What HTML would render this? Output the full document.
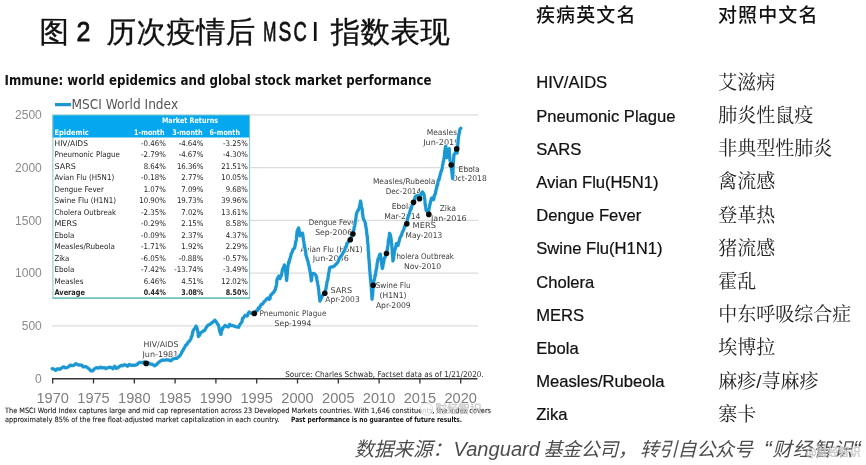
<!DOCTYPE html>
<html><head><meta charset="utf-8"><title>MSCI</title><style>
html,body{margin:0;padding:0;background:#fff;width:866px;height:465px;overflow:hidden}
svg{display:block}
</style></head><body>
<svg width="866" height="465" viewBox="0 0 866 465" font-family="'Liberation Sans',sans-serif">
<g font-family="'WenQuanYi Zen Hei','Noto Sans CJK SC',sans-serif" font-size="29.5" fill="#111" stroke="#111" stroke-width="0.35" letter-spacing="0.3">
<text x="39.4" y="42">图</text><text x="106.6" y="42">历次疫情后</text><text x="330.8" y="42">指数表现</text>
</g>
<g font-size="27" fill="#111" stroke="#111" stroke-width="0.8">
<text x="76.4" y="41.1" textLength="13.9" lengthAdjust="spacingAndGlyphs">2</text>
<text x="263.3" y="41.1" textLength="13.1" lengthAdjust="spacingAndGlyphs">M</text>
<text x="278.6" y="41.1" textLength="12.8" lengthAdjust="spacingAndGlyphs">S</text>
<text x="293.6" y="41.1" textLength="13.3" lengthAdjust="spacingAndGlyphs">C</text>
<text x="311.6" y="41.1" stroke-width="0.15">I</text>
</g>
<text x="4.5" y="85" font-family="'DejaVu Sans',sans-serif" font-size="14.4" font-weight="bold" fill="#111" textLength="427" lengthAdjust="spacingAndGlyphs">Immune: world epidemics and global stock market performance</text>
<line x1="55" y1="104.6" x2="71" y2="104.6" stroke="#1c97d2" stroke-width="3.3"/>
<text x="71.5" y="109" font-family="'DejaVu Sans',sans-serif" font-size="13.8" fill="#555" textLength="106.6" lengthAdjust="spacingAndGlyphs">MSCI World Index</text>
<line x1="52" y1="325.8" x2="478" y2="325.8" stroke="#dcdcdc" stroke-width="1.2"/>
<line x1="52" y1="273.1" x2="478" y2="273.1" stroke="#dcdcdc" stroke-width="1.2"/>
<line x1="52" y1="220.3" x2="478" y2="220.3" stroke="#dcdcdc" stroke-width="1.2"/>
<line x1="52" y1="167.6" x2="478" y2="167.6" stroke="#dcdcdc" stroke-width="1.2"/>
<line x1="52" y1="114.9" x2="478" y2="114.9" stroke="#dcdcdc" stroke-width="1.2"/>
<text x="41.8" y="382.8" font-size="12" fill="#8a8a8a" text-anchor="end">0</text>
<text x="41.8" y="330.1" font-size="12" fill="#8a8a8a" text-anchor="end">500</text>
<text x="41.8" y="277.4" font-size="12" fill="#8a8a8a" text-anchor="end">1000</text>
<text x="41.8" y="224.6" font-size="12" fill="#8a8a8a" text-anchor="end">1500</text>
<text x="41.8" y="171.9" font-size="12" fill="#8a8a8a" text-anchor="end">2000</text>
<text x="41.8" y="119.2" font-size="12" fill="#8a8a8a" text-anchor="end">2500</text>
<line x1="52" y1="378.8" x2="477.5" y2="378.8" stroke="#333" stroke-width="1.6"/>
<line x1="52.7" y1="378" x2="52.7" y2="383.5" stroke="#333" stroke-width="1.3"/>
<text x="52.7" y="402.6" font-size="14.6" fill="#7d7d7d" text-anchor="middle">1970</text>
<line x1="93.5" y1="378" x2="93.5" y2="383.5" stroke="#333" stroke-width="1.3"/>
<text x="93.5" y="402.6" font-size="14.6" fill="#7d7d7d" text-anchor="middle">1975</text>
<line x1="134.3" y1="378" x2="134.3" y2="383.5" stroke="#333" stroke-width="1.3"/>
<text x="134.3" y="402.6" font-size="14.6" fill="#7d7d7d" text-anchor="middle">1980</text>
<line x1="175.1" y1="378" x2="175.1" y2="383.5" stroke="#333" stroke-width="1.3"/>
<text x="175.1" y="402.6" font-size="14.6" fill="#7d7d7d" text-anchor="middle">1985</text>
<line x1="215.9" y1="378" x2="215.9" y2="383.5" stroke="#333" stroke-width="1.3"/>
<text x="215.9" y="402.6" font-size="14.6" fill="#7d7d7d" text-anchor="middle">1990</text>
<line x1="256.7" y1="378" x2="256.7" y2="383.5" stroke="#333" stroke-width="1.3"/>
<text x="256.7" y="402.6" font-size="14.6" fill="#7d7d7d" text-anchor="middle">1995</text>
<line x1="297.5" y1="378" x2="297.5" y2="383.5" stroke="#333" stroke-width="1.3"/>
<text x="297.5" y="402.6" font-size="14.6" fill="#7d7d7d" text-anchor="middle">2000</text>
<line x1="338.3" y1="378" x2="338.3" y2="383.5" stroke="#333" stroke-width="1.3"/>
<text x="338.3" y="402.6" font-size="14.6" fill="#7d7d7d" text-anchor="middle">2005</text>
<line x1="379.1" y1="378" x2="379.1" y2="383.5" stroke="#333" stroke-width="1.3"/>
<text x="379.1" y="402.6" font-size="14.6" fill="#7d7d7d" text-anchor="middle">2010</text>
<line x1="419.9" y1="378" x2="419.9" y2="383.5" stroke="#333" stroke-width="1.3"/>
<text x="419.9" y="402.6" font-size="14.6" fill="#7d7d7d" text-anchor="middle">2015</text>
<line x1="460.7" y1="378" x2="460.7" y2="383.5" stroke="#333" stroke-width="1.3"/>
<text x="460.7" y="402.6" font-size="14.6" fill="#7d7d7d" text-anchor="middle">2020</text>
<text x="285.2" y="376.5" font-family="'DejaVu Sans',sans-serif" font-size="7.9" fill="#2a2a2a" textLength="198.5" lengthAdjust="spacingAndGlyphs">Source: Charles Schwab, Factset data as of 1/21/2020.</text>
<g font-family="'DejaVu Sans',sans-serif" font-size="7.9" fill="#3c3c3c" text-anchor="middle">
<text x="161" y="347.4" textLength="34.8" lengthAdjust="spacingAndGlyphs">HIV/AIDS</text>
<text x="160.4" y="357" textLength="35.8" lengthAdjust="spacingAndGlyphs">Jun-1981</text>
<text x="293" y="315.8" textLength="66.8" lengthAdjust="spacingAndGlyphs">Pneumonic Plague</text>
<text x="293" y="325.7" textLength="36.8" lengthAdjust="spacingAndGlyphs">Sep-1994</text>
<text x="341.3" y="293" textLength="21.6" lengthAdjust="spacingAndGlyphs">SARS</text>
<text x="342.5" y="302.3" textLength="34.4" lengthAdjust="spacingAndGlyphs">Apr-2003</text>
<text x="331.5" y="251.9" textLength="62.1" lengthAdjust="spacingAndGlyphs">Avian Flu (H5N1)</text>
<text x="330.8" y="261" textLength="36.3" lengthAdjust="spacingAndGlyphs">Jun-2006</text>
<text x="333.7" y="225.2" textLength="49.8" lengthAdjust="spacingAndGlyphs">Dengue Fever</text>
<text x="333.7" y="235.2" textLength="37" lengthAdjust="spacingAndGlyphs">Sep-2006</text>
<text x="393.2" y="288.2" textLength="35.1" lengthAdjust="spacingAndGlyphs">Swine Flu</text>
<text x="393" y="298.4" textLength="27.1" lengthAdjust="spacingAndGlyphs">(H1N1)</text>
<text x="393.3" y="307.8" textLength="34.8" lengthAdjust="spacingAndGlyphs">Apr-2009</text>
<text x="422.7" y="258.8" textLength="62.5" lengthAdjust="spacingAndGlyphs">Cholera Outbreak</text>
<text x="422.5" y="268.6" textLength="37.2" lengthAdjust="spacingAndGlyphs">Nov-2010</text>
<text x="424.2" y="228.4" textLength="23.4" lengthAdjust="spacingAndGlyphs">MERS</text>
<text x="423.9" y="237.8" textLength="36.6" lengthAdjust="spacingAndGlyphs">May-2013</text>
<text x="402.2" y="208.9" textLength="21" lengthAdjust="spacingAndGlyphs">Ebola</text>
<text x="402.3" y="218.5" textLength="36.2" lengthAdjust="spacingAndGlyphs">Mar-2014</text>
<text x="404.2" y="184.3" textLength="62.5" lengthAdjust="spacingAndGlyphs">Measles/Rubeola</text>
<text x="403.4" y="194.1" textLength="35.4" lengthAdjust="spacingAndGlyphs">Dec-2014</text>
<text x="447.8" y="211.1" textLength="16.3" lengthAdjust="spacingAndGlyphs">Zika</text>
<text x="448.8" y="220.6" textLength="35.6" lengthAdjust="spacingAndGlyphs">Jan-2016</text>
<text x="469.1" y="171.6" textLength="21" lengthAdjust="spacingAndGlyphs">Ebola</text>
<text x="469.2" y="181" textLength="35.1" lengthAdjust="spacingAndGlyphs">Oct-2018</text>
<text x="441.9" y="135.4" textLength="30.4" lengthAdjust="spacingAndGlyphs">Measles</text>
<text x="441.3" y="144.9" textLength="36.2" lengthAdjust="spacingAndGlyphs">Jun-2019</text>
</g>
<polyline points="52.3,368.7 54,369.1 55.8,370.4 57.7,368.7 59.6,369.3 61.5,368.1 63.4,366.8 65.4,367.8 67.3,367.5 68.8,366.5 70.4,365.1 71.9,365.6 73.8,365.3 75.8,363.7 77.7,364.6 79.6,365.2 81.6,365.1 83.5,367 85.8,366.5 88.1,368.1 89.5,369.4 91,371 92.5,371 93.9,369.3 96.2,367.7 98.5,368.1 100.4,367.2 102.4,368 104.3,367.5 106,368.7 107.8,367.7 109.5,367.2 111.2,367.5 112.9,368.7 114.7,366.3 116.4,368.4 118.1,367.5 119.6,366.4 121.2,365.4 122.7,365.8 124.3,364.7 125.9,365.1 127.6,366.3 129.2,364.5 130.8,365.2 133.2,365.4 135.5,365.2 137,364.6 138.6,362.9 140.1,362.3 142.1,362.8 144.1,361.9 146.1,363.4 148.1,362.6 150.1,364.1 152.3,364.2 154.5,365.8 156.2,364.9 157.9,363 159.4,361.9 160.8,360.7 162.3,360.2 164.6,360.2 166.8,359.7 168.8,360.1 170.7,360.8 172.6,359.1 174.6,358.5 176.6,358.5 178.5,356.9 179.9,355.7 181.3,353.5 182.1,351.4 182.8,350.8 183.6,349.1 184.7,347.2 185.8,345.1 186.9,344.7 188,342.3 189.4,341.2 190.8,339 191.4,336.6 191.9,336.5 192.5,333.4 193.1,330.9 193.6,330.2 194.2,328.9 195.1,328.2 195.9,326.1 196.7,327.1 197.5,330 197.8,331.6 198,332.1 198.2,335.3 198.5,336.5 199.6,335.2 200.7,332.6 202.2,331.9 203.7,330.8 204.8,330.3 206,327.9 207.2,325.9 208.4,324.9 209.9,324.5 211.4,323.1 213.2,321.9 214.9,320.2 216.7,322.5 217.6,324.2 218.5,325.5 219,327.2 219.4,329.9 219.9,332 220.3,332.6 220.8,334.4 221.2,333.2 221.7,330 222.2,330 222.6,327.9 223.8,327.1 225,325.5 227.3,326.7 228.5,326.8 229.7,324.3 231.2,325.7 232.7,325.5 235.6,326.7 238.6,327.3 239.5,325.2 240.4,323.9 241.3,322.7 242,321.6 242.6,318.3 243.3,318 244.3,316.6 245.3,315.3 247.3,316 248.3,313.1 249.3,312 251.3,313.3 254.4,313.3 255.9,311 257.3,310.7 258.2,308.2 259.1,308.7 260,306.7 261.4,304.4 262.7,304 264,301.7 265.3,300.7 266.6,299.1 268,298 269.3,299.3 270,298.7 270.6,295.1 271.3,294.7 272.6,293.2 274,292 274.7,290.4 275.3,289.5 276,286.7 276.3,285.9 276.5,284.4 276.8,281.3 277,280.1 277.3,278.7 279,276 280,278.7 280.5,276.7 281,276.3 281.5,274.9 282,272 282.6,269.1 283.3,268 284.4,265 284.7,265.9 285,267.8 285.4,269.5 285.7,271.9 285.9,273.6 286.1,275.6 286.2,276.4 286.4,277.5 286.6,280.5 286.8,278.6 286.9,276.7 287.1,275.5 287.2,274.8 287.4,272.4 287.5,270.2 287.7,268.7 287.8,266.7 288.2,265.4 288.6,262.1 289.1,262.6 289.5,259.8 290.1,258.5 290.6,256.8 291.2,253.8 292.1,252.4 293,249.5 294.7,247.8 295,245.8 295.4,244.1 295.7,241.6 296.1,241.3 296.4,239.2 296.6,236.3 296.8,234.6 296.9,233.3 297.1,231.4 297.3,230.6 298.6,228 298.9,229.5 299.2,230.7 299.5,232.6 299.8,235.8 301.2,234 302.4,233.2 302.7,234.3 303,236.2 303.3,239.2 303.6,240.6 303.8,241.4 304.1,244.4 304.6,247.1 305,247.8 305.2,249.9 305.4,250.5 305.7,252.6 305.9,255 306.4,256.4 307,258.2 307.5,260.4 308,261.2 308.6,264.9 309.1,265.8 309.4,268.7 309.6,268.9 309.9,270.6 310.2,272.2 310.4,272.8 310.6,274.6 310.9,277 311.1,278.5 311.3,280.8 311.6,279.9 311.9,276.4 312.1,274.3 312.4,273.8 314,273.3 315.6,274.9 316.7,277.6 316.9,280.4 317.2,280.9 317.4,281.5 317.7,284 318,285.7 318.2,286 318.5,288.9 318.8,290.5 319,293.5 319.2,295 319.4,295.9 319.6,298.2 319.7,298.8 319.9,301.2 320.7,299.3 321.5,298 322.3,295.5 323.1,294.8 325,293.2 325.3,292.2 325.6,289.8 326,288.7 326.3,286.2 326.7,284 327,281.9 327.4,280.8 327.7,279.9 327.9,278.6 328.2,276.5 328.5,273.8 328.9,272.6 329.2,270.7 329.6,267.9 331.2,266.8 332.8,266.8 334.4,265.8 336.6,263.6 337.8,262.2 338.9,259.5 340,257.2 341,256.3 342.1,254.7 343.3,252.3 344.5,250.6 345.4,247.4 346.2,246.6 347,243.4 347.8,242.6 349,240.6 350.2,239.8 351.1,237.2 352,236.4 352.9,234 353.2,233.5 353.5,230.5 353.9,230.1 354.2,227.3 354.5,226.9 354.8,225.2 355.2,222.1 355.5,220.1 355.8,219.2 356.1,216.6 356.3,214.6 356.6,213.5 357.5,211.1 358.3,210.3 358.8,208.8 359.4,207.6 359.9,204.7 360.2,203.7 360.5,201 360.9,202.7 361.2,204.9 361.5,207 361.9,208 362.1,208.7 362.4,212 362.6,214.4 362.9,215.9 363.1,217.6 363.4,218.7 364.2,220.4 365,222.2 365.4,223.3 365.8,226.9 366.2,228.1 366.4,229.6 366.7,232.7 366.9,235 367.2,235.4 367.4,237.6 367.5,239 367.6,242.1 367.8,243.2 367.9,243.4 368,244.9 368.1,246.7 368.2,250.3 368.4,251.7 368.5,251.6 368.6,254.2 368.7,256.7 368.8,258.7 369,259.6 369.1,260.4 369.2,262.6 369.3,263.1 369.4,264.5 369.6,268.6 369.7,269.4 369.8,270.7 370,272.5 370.1,275.2 370.3,275.6 370.4,278.5 370.6,280 370.7,280.1 370.9,282.6 371,283.6 371.1,285.4 371.3,286.9 371.4,289.4 371.5,290.2 371.6,292.3 371.7,293.2 371.9,296.9 372,297.1 372.1,299.1 372.2,297.2 372.4,295.8 372.6,294.9 372.7,291.8 372.9,291.4 373,288.5 373.2,286.8 373.3,285 373.6,283.4 374,280.3 374.3,279.7 374.7,277.4 375,275.2 375.4,275.6 375.7,273.1 376,270.5 376.3,269.5 376.6,268.4 376.9,266.1 377.1,263.8 377.4,262.5 377.7,260.8 378,258.9 378.8,258.1 379.6,254.7 380.4,254.2 380.6,256.1 380.9,257.1 381.1,258.9 381.4,262 381.6,263.1 381.8,265 382.1,267.3 382.3,268.4 382.7,267.7 383,264.8 383.4,263.5 383.8,261.5 384.1,259.8 384.5,258 385.2,257 385.9,254.9 386.6,253.6 386.8,252 387.1,250.2 387.3,249.7 387.6,247.4 387.8,246.2 388.1,244.7 388.3,241.9 388.5,239.6 388.8,238.6 389,237.9 389.3,235.9 389.5,233.3 390.1,234.1 390.7,236.7 390.9,237.4 391.1,240 391.3,240.8 391.5,242.9 391.7,244.2 391.9,247.5 392.1,248.8 392.2,251.3 392.3,253.3 392.4,253.1 392.6,256.3 392.7,257.9 392.8,258.2 392.9,260.9 393.2,260.2 393.5,258.6 393.8,255 394.1,255.1 394.4,252 394.7,250.5 395.1,248.7 395.5,248.3 396,246.2 396.4,243.6 398.1,245.3 398.5,242.7 399,241.7 399.4,240.2 399.8,238.4 400.7,236.3 401.6,235 402.2,232.5 402.9,231.1 403.5,230.4 404.1,228.1 405,225.4 405.8,225.4 406.7,223.8 407.1,221.7 407.5,218.6 408,217.5 408.4,216 409,214.6 409.6,212.6 410.2,210.9 410.8,208 411.3,208.7 411.9,205.7 412.8,204.7 413.6,202.2 414.2,201.9 414.8,198.1 415.3,196.9 415.9,196 417.7,195.4 418.6,196 419.5,199 420.1,197.9 420.6,194.8 421.2,193.6 422.4,191.9 423.6,193.6 424,194.6 424.4,197.4 424.8,199.6 425,202.6 425.2,204.4 425.4,205.5 425.7,207.2 426,210.2 427.1,211.3 428.3,214.3 428.5,213.6 428.7,211 428.9,209 429.3,208 429.7,204.8 430.1,204.3 430.5,201.2 430.9,200.9 431.3,198.4 432.5,197.8 433.6,199.6 434,197.8 434.4,195.3 434.8,194.8 435.2,194.4 435.6,192 436,190.1 436.4,189.1 436.9,185.5 437.4,185.7 437.8,183 438.4,179.9 439,180 439.6,177.1 440.2,175 440.7,172.7 441.3,171.2 441.7,169.6 442.1,168.8 442.5,166 442.9,163.7 443.2,161.7 443.6,161 443.9,158.6 444.3,157.6 444.5,154.7 444.6,152.9 444.8,150.7 445,150 445.4,147.4 445.8,146.3 445.9,147.4 446.1,149 446.2,151.8 446.4,152.2 446.5,154.4 446.7,155.1 446.8,157.6 447.1,155.3 447.4,152.5 447.7,151.3 448,150 449.1,148.6 449.2,149.1 449.4,152.6 449.5,153.9 449.6,154.6 449.7,157.1 449.9,160 450,160.6 450.6,161.8 451.1,165 451.3,167.6 451.5,168.4 451.7,170.3 451.9,172.9 452.1,173.6 452.3,175.6 452.6,178.6 452.7,176.9 452.8,175.7 452.9,174.8 453,171.4 453,171 453.1,169 453.2,167.1 453.3,165.1 453.4,163.1 453.5,161.2 453.6,158.7 453.8,157.1 453.9,155.2 454,154.6 454.8,153.7 455.6,151.6 456.7,148.9 456.9,150.4 457.1,153.1 457.2,150.4 457.4,148.4 457.5,148.5 457.7,146.8 457.8,144 458,142.6 458.2,139.7 458.4,137.7 458.6,136.5 459,134.1 459.4,132.6 459.7,130 460.1,129 460.8,128.3" fill="none" stroke="#e6f7fc" stroke-width="4.6" stroke-linejoin="round" stroke-linecap="round"/>
<polyline points="52.3,368.7 54,369.1 55.8,370.4 57.7,368.7 59.6,369.3 61.5,368.1 63.4,366.8 65.4,367.8 67.3,367.5 68.8,366.5 70.4,365.1 71.9,365.6 73.8,365.3 75.8,363.7 77.7,364.6 79.6,365.2 81.6,365.1 83.5,367 85.8,366.5 88.1,368.1 89.5,369.4 91,371 92.5,371 93.9,369.3 96.2,367.7 98.5,368.1 100.4,367.2 102.4,368 104.3,367.5 106,368.7 107.8,367.7 109.5,367.2 111.2,367.5 112.9,368.7 114.7,366.3 116.4,368.4 118.1,367.5 119.6,366.4 121.2,365.4 122.7,365.8 124.3,364.7 125.9,365.1 127.6,366.3 129.2,364.5 130.8,365.2 133.2,365.4 135.5,365.2 137,364.6 138.6,362.9 140.1,362.3 142.1,362.8 144.1,361.9 146.1,363.4 148.1,362.6 150.1,364.1 152.3,364.2 154.5,365.8 156.2,364.9 157.9,363 159.4,361.9 160.8,360.7 162.3,360.2 164.6,360.2 166.8,359.7 168.8,360.1 170.7,360.8 172.6,359.1 174.6,358.5 176.6,358.5 178.5,356.9 179.9,355.7 181.3,353.5 182.1,351.4 182.8,350.8 183.6,349.1 184.7,347.2 185.8,345.1 186.9,344.7 188,342.3 189.4,341.2 190.8,339 191.4,336.6 191.9,336.5 192.5,333.4 193.1,330.9 193.6,330.2 194.2,328.9 195.1,328.2 195.9,326.1 196.7,327.1 197.5,330 197.8,331.6 198,332.1 198.2,335.3 198.5,336.5 199.6,335.2 200.7,332.6 202.2,331.9 203.7,330.8 204.8,330.3 206,327.9 207.2,325.9 208.4,324.9 209.9,324.5 211.4,323.1 213.2,321.9 214.9,320.2 216.7,322.5 217.6,324.2 218.5,325.5 219,327.2 219.4,329.9 219.9,332 220.3,332.6 220.8,334.4 221.2,333.2 221.7,330 222.2,330 222.6,327.9 223.8,327.1 225,325.5 227.3,326.7 228.5,326.8 229.7,324.3 231.2,325.7 232.7,325.5 235.6,326.7 238.6,327.3 239.5,325.2 240.4,323.9 241.3,322.7 242,321.6 242.6,318.3 243.3,318 244.3,316.6 245.3,315.3 247.3,316 248.3,313.1 249.3,312 251.3,313.3 254.4,313.3 255.9,311 257.3,310.7 258.2,308.2 259.1,308.7 260,306.7 261.4,304.4 262.7,304 264,301.7 265.3,300.7 266.6,299.1 268,298 269.3,299.3 270,298.7 270.6,295.1 271.3,294.7 272.6,293.2 274,292 274.7,290.4 275.3,289.5 276,286.7 276.3,285.9 276.5,284.4 276.8,281.3 277,280.1 277.3,278.7 279,276 280,278.7 280.5,276.7 281,276.3 281.5,274.9 282,272 282.6,269.1 283.3,268 284.4,265 284.7,265.9 285,267.8 285.4,269.5 285.7,271.9 285.9,273.6 286.1,275.6 286.2,276.4 286.4,277.5 286.6,280.5 286.8,278.6 286.9,276.7 287.1,275.5 287.2,274.8 287.4,272.4 287.5,270.2 287.7,268.7 287.8,266.7 288.2,265.4 288.6,262.1 289.1,262.6 289.5,259.8 290.1,258.5 290.6,256.8 291.2,253.8 292.1,252.4 293,249.5 294.7,247.8 295,245.8 295.4,244.1 295.7,241.6 296.1,241.3 296.4,239.2 296.6,236.3 296.8,234.6 296.9,233.3 297.1,231.4 297.3,230.6 298.6,228 298.9,229.5 299.2,230.7 299.5,232.6 299.8,235.8 301.2,234 302.4,233.2 302.7,234.3 303,236.2 303.3,239.2 303.6,240.6 303.8,241.4 304.1,244.4 304.6,247.1 305,247.8 305.2,249.9 305.4,250.5 305.7,252.6 305.9,255 306.4,256.4 307,258.2 307.5,260.4 308,261.2 308.6,264.9 309.1,265.8 309.4,268.7 309.6,268.9 309.9,270.6 310.2,272.2 310.4,272.8 310.6,274.6 310.9,277 311.1,278.5 311.3,280.8 311.6,279.9 311.9,276.4 312.1,274.3 312.4,273.8 314,273.3 315.6,274.9 316.7,277.6 316.9,280.4 317.2,280.9 317.4,281.5 317.7,284 318,285.7 318.2,286 318.5,288.9 318.8,290.5 319,293.5 319.2,295 319.4,295.9 319.6,298.2 319.7,298.8 319.9,301.2 320.7,299.3 321.5,298 322.3,295.5 323.1,294.8 325,293.2 325.3,292.2 325.6,289.8 326,288.7 326.3,286.2 326.7,284 327,281.9 327.4,280.8 327.7,279.9 327.9,278.6 328.2,276.5 328.5,273.8 328.9,272.6 329.2,270.7 329.6,267.9 331.2,266.8 332.8,266.8 334.4,265.8 336.6,263.6 337.8,262.2 338.9,259.5 340,257.2 341,256.3 342.1,254.7 343.3,252.3 344.5,250.6 345.4,247.4 346.2,246.6 347,243.4 347.8,242.6 349,240.6 350.2,239.8 351.1,237.2 352,236.4 352.9,234 353.2,233.5 353.5,230.5 353.9,230.1 354.2,227.3 354.5,226.9 354.8,225.2 355.2,222.1 355.5,220.1 355.8,219.2 356.1,216.6 356.3,214.6 356.6,213.5 357.5,211.1 358.3,210.3 358.8,208.8 359.4,207.6 359.9,204.7 360.2,203.7 360.5,201 360.9,202.7 361.2,204.9 361.5,207 361.9,208 362.1,208.7 362.4,212 362.6,214.4 362.9,215.9 363.1,217.6 363.4,218.7 364.2,220.4 365,222.2 365.4,223.3 365.8,226.9 366.2,228.1 366.4,229.6 366.7,232.7 366.9,235 367.2,235.4 367.4,237.6 367.5,239 367.6,242.1 367.8,243.2 367.9,243.4 368,244.9 368.1,246.7 368.2,250.3 368.4,251.7 368.5,251.6 368.6,254.2 368.7,256.7 368.8,258.7 369,259.6 369.1,260.4 369.2,262.6 369.3,263.1 369.4,264.5 369.6,268.6 369.7,269.4 369.8,270.7 370,272.5 370.1,275.2 370.3,275.6 370.4,278.5 370.6,280 370.7,280.1 370.9,282.6 371,283.6 371.1,285.4 371.3,286.9 371.4,289.4 371.5,290.2 371.6,292.3 371.7,293.2 371.9,296.9 372,297.1 372.1,299.1 372.2,297.2 372.4,295.8 372.6,294.9 372.7,291.8 372.9,291.4 373,288.5 373.2,286.8 373.3,285 373.6,283.4 374,280.3 374.3,279.7 374.7,277.4 375,275.2 375.4,275.6 375.7,273.1 376,270.5 376.3,269.5 376.6,268.4 376.9,266.1 377.1,263.8 377.4,262.5 377.7,260.8 378,258.9 378.8,258.1 379.6,254.7 380.4,254.2 380.6,256.1 380.9,257.1 381.1,258.9 381.4,262 381.6,263.1 381.8,265 382.1,267.3 382.3,268.4 382.7,267.7 383,264.8 383.4,263.5 383.8,261.5 384.1,259.8 384.5,258 385.2,257 385.9,254.9 386.6,253.6 386.8,252 387.1,250.2 387.3,249.7 387.6,247.4 387.8,246.2 388.1,244.7 388.3,241.9 388.5,239.6 388.8,238.6 389,237.9 389.3,235.9 389.5,233.3 390.1,234.1 390.7,236.7 390.9,237.4 391.1,240 391.3,240.8 391.5,242.9 391.7,244.2 391.9,247.5 392.1,248.8 392.2,251.3 392.3,253.3 392.4,253.1 392.6,256.3 392.7,257.9 392.8,258.2 392.9,260.9 393.2,260.2 393.5,258.6 393.8,255 394.1,255.1 394.4,252 394.7,250.5 395.1,248.7 395.5,248.3 396,246.2 396.4,243.6 398.1,245.3 398.5,242.7 399,241.7 399.4,240.2 399.8,238.4 400.7,236.3 401.6,235 402.2,232.5 402.9,231.1 403.5,230.4 404.1,228.1 405,225.4 405.8,225.4 406.7,223.8 407.1,221.7 407.5,218.6 408,217.5 408.4,216 409,214.6 409.6,212.6 410.2,210.9 410.8,208 411.3,208.7 411.9,205.7 412.8,204.7 413.6,202.2 414.2,201.9 414.8,198.1 415.3,196.9 415.9,196 417.7,195.4 418.6,196 419.5,199 420.1,197.9 420.6,194.8 421.2,193.6 422.4,191.9 423.6,193.6 424,194.6 424.4,197.4 424.8,199.6 425,202.6 425.2,204.4 425.4,205.5 425.7,207.2 426,210.2 427.1,211.3 428.3,214.3 428.5,213.6 428.7,211 428.9,209 429.3,208 429.7,204.8 430.1,204.3 430.5,201.2 430.9,200.9 431.3,198.4 432.5,197.8 433.6,199.6 434,197.8 434.4,195.3 434.8,194.8 435.2,194.4 435.6,192 436,190.1 436.4,189.1 436.9,185.5 437.4,185.7 437.8,183 438.4,179.9 439,180 439.6,177.1 440.2,175 440.7,172.7 441.3,171.2 441.7,169.6 442.1,168.8 442.5,166 442.9,163.7 443.2,161.7 443.6,161 443.9,158.6 444.3,157.6 444.5,154.7 444.6,152.9 444.8,150.7 445,150 445.4,147.4 445.8,146.3 445.9,147.4 446.1,149 446.2,151.8 446.4,152.2 446.5,154.4 446.7,155.1 446.8,157.6 447.1,155.3 447.4,152.5 447.7,151.3 448,150 449.1,148.6 449.2,149.1 449.4,152.6 449.5,153.9 449.6,154.6 449.7,157.1 449.9,160 450,160.6 450.6,161.8 451.1,165 451.3,167.6 451.5,168.4 451.7,170.3 451.9,172.9 452.1,173.6 452.3,175.6 452.6,178.6 452.7,176.9 452.8,175.7 452.9,174.8 453,171.4 453,171 453.1,169 453.2,167.1 453.3,165.1 453.4,163.1 453.5,161.2 453.6,158.7 453.8,157.1 453.9,155.2 454,154.6 454.8,153.7 455.6,151.6 456.7,148.9 456.9,150.4 457.1,153.1 457.2,150.4 457.4,148.4 457.5,148.5 457.7,146.8 457.8,144 458,142.6 458.2,139.7 458.4,137.7 458.6,136.5 459,134.1 459.4,132.6 459.7,130 460.1,129 460.8,128.3" fill="none" stroke="#1c97d2" stroke-width="3.2" stroke-linejoin="round" stroke-linecap="round"/>
<circle cx="146.1" cy="363.4" r="2.8" fill="#0a0a0a"/>
<circle cx="254.3" cy="313.4" r="2.8" fill="#0a0a0a"/>
<circle cx="324.8" cy="293.3" r="2.8" fill="#0a0a0a"/>
<circle cx="350.3" cy="239.7" r="2.8" fill="#0a0a0a"/>
<circle cx="352.9" cy="234" r="2.8" fill="#0a0a0a"/>
<circle cx="373.2" cy="285.2" r="2.8" fill="#0a0a0a"/>
<circle cx="386.5" cy="253.5" r="2.8" fill="#0a0a0a"/>
<circle cx="406.8" cy="223.7" r="2.8" fill="#0a0a0a"/>
<circle cx="413.5" cy="202.2" r="2.8" fill="#0a0a0a"/>
<circle cx="419.5" cy="198.8" r="2.8" fill="#0a0a0a"/>
<circle cx="428.8" cy="214.4" r="2.8" fill="#0a0a0a"/>
<circle cx="451.2" cy="165" r="2.8" fill="#0a0a0a"/>
<circle cx="456.7" cy="148.9" r="2.8" fill="#0a0a0a"/>
<rect x="52.5" y="114" width="197.5" height="185" fill="#fff"/>
<rect x="52.5" y="115" width="197.5" height="22.5" fill="#05a8ee"/>
<rect x="52.9" y="115" width="196.7" height="183" fill="none" stroke="#7fc6c8" stroke-width="1"/>
<line x1="52.5" y1="298.2" x2="250" y2="298.2" stroke="#6fbfc2" stroke-width="1.6"/>
<g font-size="8" font-weight="bold" fill="#fff">
<text x="190" y="123.3" font-family="'DejaVu Sans',sans-serif" font-size="7.7" text-anchor="middle" font-weight="bold" textLength="56.1" lengthAdjust="spacingAndGlyphs">Market Returns</text>
<text x="54.5" y="134.5" font-family="'DejaVu Sans',sans-serif" font-size="7.7" font-weight="bold" textLength="34.2" lengthAdjust="spacingAndGlyphs">Epidemic</text>
<text x="164.5" y="134.5" font-family="'DejaVu Sans',sans-serif" font-size="7.7" text-anchor="end" font-weight="bold" textLength="30.4" lengthAdjust="spacingAndGlyphs">1-month</text>
<text x="202.6" y="134.5" font-family="'DejaVu Sans',sans-serif" font-size="7.7" text-anchor="end" font-weight="bold" textLength="30.4" lengthAdjust="spacingAndGlyphs">3-month</text>
<text x="240" y="134.5" font-family="'DejaVu Sans',sans-serif" font-size="7.7" text-anchor="end" font-weight="bold" textLength="30.4" lengthAdjust="spacingAndGlyphs">6-month</text>
</g>
<g font-size="8" fill="#222">
<text x="54.5" y="145.6" font-family="'DejaVu Sans',sans-serif" font-size="7.8" textLength="33.4" lengthAdjust="spacingAndGlyphs">HIV/AIDS</text>
<text x="165.8" y="145.6" font-family="'DejaVu Sans',sans-serif" font-size="7.8" text-anchor="end" textLength="24.7" lengthAdjust="spacingAndGlyphs">-0.46%</text>
<text x="203.4" y="145.6" font-family="'DejaVu Sans',sans-serif" font-size="7.8" text-anchor="end" textLength="24.7" lengthAdjust="spacingAndGlyphs">-4.64%</text>
<text x="247.8" y="145.6" font-family="'DejaVu Sans',sans-serif" font-size="7.8" text-anchor="end" textLength="24.7" lengthAdjust="spacingAndGlyphs">-3.25%</text>
<text x="54.5" y="157.1" font-family="'DejaVu Sans',sans-serif" font-size="7.8" textLength="65.5" lengthAdjust="spacingAndGlyphs">Pneumonic Plague</text>
<text x="165.8" y="157.1" font-family="'DejaVu Sans',sans-serif" font-size="7.8" text-anchor="end" textLength="24.7" lengthAdjust="spacingAndGlyphs">-2.79%</text>
<text x="203.4" y="157.1" font-family="'DejaVu Sans',sans-serif" font-size="7.8" text-anchor="end" textLength="24.7" lengthAdjust="spacingAndGlyphs">-4.67%</text>
<text x="247.8" y="157.1" font-family="'DejaVu Sans',sans-serif" font-size="7.8" text-anchor="end" textLength="24.7" lengthAdjust="spacingAndGlyphs">-4.30%</text>
<text x="54.5" y="168.6" font-family="'DejaVu Sans',sans-serif" font-size="7.8" textLength="21.2" lengthAdjust="spacingAndGlyphs">SARS</text>
<text x="165.8" y="168.6" font-family="'DejaVu Sans',sans-serif" font-size="7.8" text-anchor="end" textLength="22.1" lengthAdjust="spacingAndGlyphs">8.64%</text>
<text x="203.4" y="168.6" font-family="'DejaVu Sans',sans-serif" font-size="7.8" text-anchor="end" textLength="26.5" lengthAdjust="spacingAndGlyphs">16.36%</text>
<text x="247.8" y="168.6" font-family="'DejaVu Sans',sans-serif" font-size="7.8" text-anchor="end" textLength="26.5" lengthAdjust="spacingAndGlyphs">21.51%</text>
<text x="54.5" y="180.1" font-family="'DejaVu Sans',sans-serif" font-size="7.8" textLength="59.7" lengthAdjust="spacingAndGlyphs">Avian Flu (H5N1)</text>
<text x="165.8" y="180.1" font-family="'DejaVu Sans',sans-serif" font-size="7.8" text-anchor="end" textLength="24.7" lengthAdjust="spacingAndGlyphs">-0.18%</text>
<text x="203.4" y="180.1" font-family="'DejaVu Sans',sans-serif" font-size="7.8" text-anchor="end" textLength="22.1" lengthAdjust="spacingAndGlyphs">2.77%</text>
<text x="247.8" y="180.1" font-family="'DejaVu Sans',sans-serif" font-size="7.8" text-anchor="end" textLength="26.5" lengthAdjust="spacingAndGlyphs">10.05%</text>
<text x="54.5" y="191.6" font-family="'DejaVu Sans',sans-serif" font-size="7.8" textLength="49.4" lengthAdjust="spacingAndGlyphs">Dengue Fever</text>
<text x="165.8" y="191.6" font-family="'DejaVu Sans',sans-serif" font-size="7.8" text-anchor="end" textLength="22.1" lengthAdjust="spacingAndGlyphs">1.07%</text>
<text x="203.4" y="191.6" font-family="'DejaVu Sans',sans-serif" font-size="7.8" text-anchor="end" textLength="22.1" lengthAdjust="spacingAndGlyphs">7.09%</text>
<text x="247.8" y="191.6" font-family="'DejaVu Sans',sans-serif" font-size="7.8" text-anchor="end" textLength="22.1" lengthAdjust="spacingAndGlyphs">9.68%</text>
<text x="54.5" y="203.1" font-family="'DejaVu Sans',sans-serif" font-size="7.8" textLength="61.5" lengthAdjust="spacingAndGlyphs">Swine Flu (H1N1)</text>
<text x="165.8" y="203.1" font-family="'DejaVu Sans',sans-serif" font-size="7.8" text-anchor="end" textLength="26.5" lengthAdjust="spacingAndGlyphs">10.90%</text>
<text x="203.4" y="203.1" font-family="'DejaVu Sans',sans-serif" font-size="7.8" text-anchor="end" textLength="26.5" lengthAdjust="spacingAndGlyphs">19.73%</text>
<text x="247.8" y="203.1" font-family="'DejaVu Sans',sans-serif" font-size="7.8" text-anchor="end" textLength="26.5" lengthAdjust="spacingAndGlyphs">39.96%</text>
<text x="54.5" y="214.6" font-family="'DejaVu Sans',sans-serif" font-size="7.8" textLength="61.6" lengthAdjust="spacingAndGlyphs">Cholera Outbreak</text>
<text x="165.8" y="214.6" font-family="'DejaVu Sans',sans-serif" font-size="7.8" text-anchor="end" textLength="24.7" lengthAdjust="spacingAndGlyphs">-2.35%</text>
<text x="203.4" y="214.6" font-family="'DejaVu Sans',sans-serif" font-size="7.8" text-anchor="end" textLength="22.1" lengthAdjust="spacingAndGlyphs">7.02%</text>
<text x="247.8" y="214.6" font-family="'DejaVu Sans',sans-serif" font-size="7.8" text-anchor="end" textLength="26.5" lengthAdjust="spacingAndGlyphs">13.61%</text>
<text x="54.5" y="226.1" font-family="'DejaVu Sans',sans-serif" font-size="7.8" textLength="22.5" lengthAdjust="spacingAndGlyphs">MERS</text>
<text x="165.8" y="226.1" font-family="'DejaVu Sans',sans-serif" font-size="7.8" text-anchor="end" textLength="24.7" lengthAdjust="spacingAndGlyphs">-0.29%</text>
<text x="203.4" y="226.1" font-family="'DejaVu Sans',sans-serif" font-size="7.8" text-anchor="end" textLength="22.1" lengthAdjust="spacingAndGlyphs">2.15%</text>
<text x="247.8" y="226.1" font-family="'DejaVu Sans',sans-serif" font-size="7.8" text-anchor="end" textLength="22.1" lengthAdjust="spacingAndGlyphs">8.58%</text>
<text x="54.5" y="237.6" font-family="'DejaVu Sans',sans-serif" font-size="7.8" textLength="19.9" lengthAdjust="spacingAndGlyphs">Ebola</text>
<text x="165.8" y="237.6" font-family="'DejaVu Sans',sans-serif" font-size="7.8" text-anchor="end" textLength="24.7" lengthAdjust="spacingAndGlyphs">-0.09%</text>
<text x="203.4" y="237.6" font-family="'DejaVu Sans',sans-serif" font-size="7.8" text-anchor="end" textLength="22.1" lengthAdjust="spacingAndGlyphs">2.37%</text>
<text x="247.8" y="237.6" font-family="'DejaVu Sans',sans-serif" font-size="7.8" text-anchor="end" textLength="22.1" lengthAdjust="spacingAndGlyphs">4.37%</text>
<text x="54.5" y="249.1" font-family="'DejaVu Sans',sans-serif" font-size="7.8" textLength="60.3" lengthAdjust="spacingAndGlyphs">Measles/Rubeola</text>
<text x="165.8" y="249.1" font-family="'DejaVu Sans',sans-serif" font-size="7.8" text-anchor="end" textLength="24.7" lengthAdjust="spacingAndGlyphs">-1.71%</text>
<text x="203.4" y="249.1" font-family="'DejaVu Sans',sans-serif" font-size="7.8" text-anchor="end" textLength="22.1" lengthAdjust="spacingAndGlyphs">1.92%</text>
<text x="247.8" y="249.1" font-family="'DejaVu Sans',sans-serif" font-size="7.8" text-anchor="end" textLength="22.1" lengthAdjust="spacingAndGlyphs">2.29%</text>
<text x="54.5" y="260.6" font-family="'DejaVu Sans',sans-serif" font-size="7.8" textLength="14.7" lengthAdjust="spacingAndGlyphs">Zika</text>
<text x="165.8" y="260.6" font-family="'DejaVu Sans',sans-serif" font-size="7.8" text-anchor="end" textLength="24.7" lengthAdjust="spacingAndGlyphs">-6.05%</text>
<text x="203.4" y="260.6" font-family="'DejaVu Sans',sans-serif" font-size="7.8" text-anchor="end" textLength="24.7" lengthAdjust="spacingAndGlyphs">-0.88%</text>
<text x="247.8" y="260.6" font-family="'DejaVu Sans',sans-serif" font-size="7.8" text-anchor="end" textLength="24.7" lengthAdjust="spacingAndGlyphs">-0.57%</text>
<text x="54.5" y="272.1" font-family="'DejaVu Sans',sans-serif" font-size="7.8" textLength="19.9" lengthAdjust="spacingAndGlyphs">Ebola</text>
<text x="165.8" y="272.1" font-family="'DejaVu Sans',sans-serif" font-size="7.8" text-anchor="end" textLength="24.7" lengthAdjust="spacingAndGlyphs">-7.42%</text>
<text x="203.4" y="272.1" font-family="'DejaVu Sans',sans-serif" font-size="7.8" text-anchor="end" textLength="29.1" lengthAdjust="spacingAndGlyphs">-13.74%</text>
<text x="247.8" y="272.1" font-family="'DejaVu Sans',sans-serif" font-size="7.8" text-anchor="end" textLength="24.7" lengthAdjust="spacingAndGlyphs">-3.49%</text>
<text x="54.5" y="283.6" font-family="'DejaVu Sans',sans-serif" font-size="7.8" textLength="29" lengthAdjust="spacingAndGlyphs">Measles</text>
<text x="165.8" y="283.6" font-family="'DejaVu Sans',sans-serif" font-size="7.8" text-anchor="end" textLength="22.1" lengthAdjust="spacingAndGlyphs">6.46%</text>
<text x="203.4" y="283.6" font-family="'DejaVu Sans',sans-serif" font-size="7.8" text-anchor="end" textLength="22.1" lengthAdjust="spacingAndGlyphs">4.51%</text>
<text x="247.8" y="283.6" font-family="'DejaVu Sans',sans-serif" font-size="7.8" text-anchor="end" textLength="26.5" lengthAdjust="spacingAndGlyphs">12.02%</text>
<text x="54.5" y="295.1" font-family="'DejaVu Sans',sans-serif" font-size="7.8" font-weight="bold" textLength="30.5" lengthAdjust="spacingAndGlyphs">Average</text>
<text x="165.8" y="295.1" font-family="'DejaVu Sans',sans-serif" font-size="7.8" text-anchor="end" font-weight="bold" textLength="22.1" lengthAdjust="spacingAndGlyphs">0.44%</text>
<text x="203.4" y="295.1" font-family="'DejaVu Sans',sans-serif" font-size="7.8" text-anchor="end" font-weight="bold" textLength="22.1" lengthAdjust="spacingAndGlyphs">3.08%</text>
<text x="247.8" y="295.1" font-family="'DejaVu Sans',sans-serif" font-size="7.8" text-anchor="end" font-weight="bold" textLength="22.1" lengthAdjust="spacingAndGlyphs">8.50%</text>
</g>
<text x="5" y="413.2" font-family="'DejaVu Sans',sans-serif" font-size="7.3" fill="#1a1a1a" stroke="#1a1a1a" stroke-width="0.1" textLength="486" lengthAdjust="spacingAndGlyphs">The MSCI World Index captures large and mid cap representation across 23 Developed Markets countries. With 1,646 constituents, the index covers</text>
<text x="5" y="422.4" font-family="'DejaVu Sans',sans-serif" font-size="7.3" fill="#1a1a1a" stroke="#1a1a1a" stroke-width="0.1" textLength="274.5" lengthAdjust="spacingAndGlyphs">approximately 85% of the free float-adjusted market capitalization in each country.</text>
<text x="291" y="422.4" font-family="'DejaVu Sans',sans-serif" font-size="7.3" font-weight="bold" fill="#111" textLength="171" lengthAdjust="spacingAndGlyphs">Past performance is no guarantee of future results.</text>
<g font-family="'Noto Sans CJK SC',sans-serif" font-size="19" font-weight="500" fill="#111">
<text x="536" y="21.5" letter-spacing="1.1">疾病英文名</text><text x="718" y="21.5" letter-spacing="1.1">对照中文名</text>
</g>
<text x="536.2" y="88.3" font-size="16.6" fill="#111" stroke="#111" stroke-width="0.22">HIV/AIDS</text>
<text x="718.2" y="88.7" font-family="'Liberation Sans','Noto Serif CJK SC',serif" font-size="19" fill="#222">艾滋病</text>
<text x="536.2" y="121.5" font-size="16.6" fill="#111" stroke="#111" stroke-width="0.22">Pneumonic Plague</text>
<text x="718.2" y="121.9" font-family="'Liberation Sans','Noto Serif CJK SC',serif" font-size="19" fill="#222">肺炎性鼠疫</text>
<text x="536.2" y="154.7" font-size="16.6" fill="#111" stroke="#111" stroke-width="0.22">SARS</text>
<text x="718.2" y="155.1" font-family="'Liberation Sans','Noto Serif CJK SC',serif" font-size="19" fill="#222">非典型性肺炎</text>
<text x="536.2" y="187.9" font-size="16.6" fill="#111" stroke="#111" stroke-width="0.22">Avian Flu(H5N1)</text>
<text x="718.2" y="188.3" font-family="'Liberation Sans','Noto Serif CJK SC',serif" font-size="19" fill="#222">禽流感</text>
<text x="536.2" y="221.1" font-size="16.6" fill="#111" stroke="#111" stroke-width="0.22">Dengue Fever</text>
<text x="718.2" y="221.5" font-family="'Liberation Sans','Noto Serif CJK SC',serif" font-size="19" fill="#222">登革热</text>
<text x="536.2" y="254.3" font-size="16.6" fill="#111" stroke="#111" stroke-width="0.22">Swine Flu(H1N1)</text>
<text x="718.2" y="254.7" font-family="'Liberation Sans','Noto Serif CJK SC',serif" font-size="19" fill="#222">猪流感</text>
<text x="536.2" y="287.5" font-size="16.6" fill="#111" stroke="#111" stroke-width="0.22">Cholera</text>
<text x="718.2" y="287.9" font-family="'Liberation Sans','Noto Serif CJK SC',serif" font-size="19" fill="#222">霍乱</text>
<text x="536.2" y="320.7" font-size="16.6" fill="#111" stroke="#111" stroke-width="0.22">MERS</text>
<text x="718.2" y="321.1" font-family="'Liberation Sans','Noto Serif CJK SC',serif" font-size="19" fill="#222">中东呼吸综合症</text>
<text x="536.2" y="353.9" font-size="16.6" fill="#111" stroke="#111" stroke-width="0.22">Ebola</text>
<text x="718.2" y="354.3" font-family="'Liberation Sans','Noto Serif CJK SC',serif" font-size="19" fill="#222">埃博拉</text>
<text x="536.2" y="387.1" font-size="16.6" fill="#111" stroke="#111" stroke-width="0.22">Measles/Rubeola</text>
<text x="718.2" y="387.5" font-family="'Liberation Sans','Noto Serif CJK SC',serif" font-size="19" fill="#222">麻疹/荨麻疹</text>
<text x="536.2" y="420.3" font-size="16.6" fill="#111" stroke="#111" stroke-width="0.22">Zika</text>
<text x="718.2" y="420.7" font-family="'Liberation Sans','Noto Serif CJK SC',serif" font-size="19" fill="#222">寨卡</text>
<g font-family="'Liberation Sans','Noto Sans CJK SC',sans-serif" font-size="19.5" font-style="italic" fill="#4d4d4d">
<text x="354.5" y="456">数据来源：</text>
<text x="453.5" y="456" textLength="86.5" lengthAdjust="spacingAndGlyphs">Vanguard</text>
<text x="543.5" y="456" font-size="19" letter-spacing="-0.4">基金公司，</text>
<text x="640" y="456" font-size="19" letter-spacing="-0.2">转引自公众号</text>
<text x="764" y="458" font-size="23">“</text><text x="772.5" y="456" font-size="19.3" letter-spacing="1">财经智识</text><text x="853" y="458" font-size="23">“</text>
</g>
<g opacity="0.9"><circle cx="426.5" cy="409.0" r="6.2" fill="#fff" fill-opacity="0.8" stroke="#c8c8c8" stroke-width="0.7"/>
<text x="435.5" y="412.5" font-family="'Noto Sans CJK SC',sans-serif" font-size="11.5" fill="#fff" fill-opacity="0.85" stroke="#b8b8b8" stroke-width="0.5">财经智识</text></g>
<text x="806" y="456" font-family="'Noto Sans CJK SC',sans-serif" font-size="11" fill="#fff" fill-opacity="0.6" stroke="#bbb" stroke-width="0.5">@财经智识</text>
</svg>
</body></html>
